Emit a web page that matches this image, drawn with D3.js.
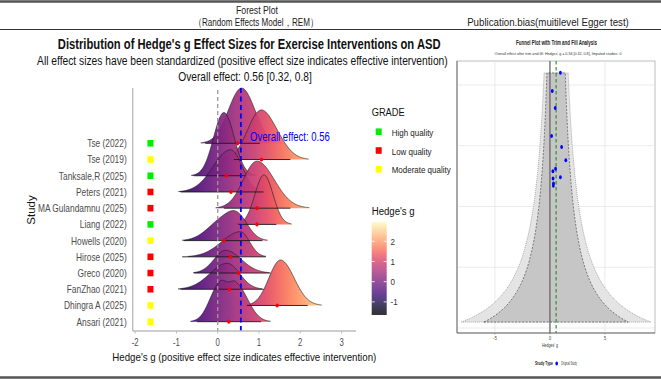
<!DOCTYPE html>
<html>
<head>
<meta charset="utf-8">
<script src="https://cdn.jsdelivr.net/npm/d3@7"></script>
<style>
  body { margin: 0; background: #fff; }
  svg { display: block; }
  text { font-family: "Liberation Sans", Arial, sans-serif; }
</style>
</head>
<body>
<div id="chart"></div>
<script>
// ---- data ----
var studies = ["Ansari (2021)", "Dhingra A (2025)", "FanZhao (2021)", "Greco (2020)", "Hirose (2025)",
               "Howells (2020)", "Liang (2022)", "MA Gulandamnu (2025)", "Peters (2021)",
               "Tanksale,R (2025)", "Tse (2019)", "Tse (2022)"];
var grade = ["Moderate quality", "Moderate quality", "Low quality", "Low quality", "Low quality",
             "Moderate quality", "High quality", "Low quality", "Low quality",
             "High quality", "Moderate quality", "High quality"];
var hedgesG = [0.27, 1.44, 0.28, 0.51, 0.31, 0.15, 0.95, 0.95, 0.32, 0.21, 1.06, 0.48];
var ciLow   = [-0.50, 0.71, -0.90, -0.58, -0.86, -0.82, 0.50, 0.15, -0.90, -0.58, 0.39, -0.30];
var ciHigh  = [1.05, 2.18, 1.11, 1.28, 1.16, 1.08, 1.42, 1.76, 1.11, 0.67, 1.76, 1.02];
// ridge shape: bumps [mode, sd left, sd right, height in rows]
var ridgeShape = [
  [[0.05, 0.24, 0.18, 2.3], [0.45, 0.18, 0.28, 2.25]],
  [[1.52, 0.28, 0.33, 2.8]],
  [[0.23, 0.42, 0.30, 1.6]],
  [[0.19, 0.28, 0.38, 1.4]],
  [[0.55, 0.45, 0.22, 1.55]],
  [[0.10, 0.35, 0.35, 1.2], [0.50, 0.25, 0.25, 1.1]],
  [[1.12, 0.22, 0.22, 3.05]],
  [[0.95, 0.33, 0.42, 2.9]],
  [[0.31, 0.42, 0.28, 2.6]],
  [[0.15, 0.25, 0.25, 3.9]],
  [[0.99, 0.30, 0.30, 2.6], [1.40, 0.30, 0.30, 1.0]],
  [[0.58, 0.32, 0.32, 3.4]]
];
var precision = [1.54, 1.63, 1.48, 1.56, 1.42, 1.83, 2.35, 1.49, 1.44, 2.20, 1.74, 2.06];
var gradeLevels = ["High quality", "Low quality", "Moderate quality"];
var gradeColors = ["#00ee00", "#ff0000", "#ffff00"];
var pooled = 0.56, pooledLow = 0.32, pooledHigh = 0.8;
var fillRange = [-1.65, 2.97];
var xTicks = [-2, -1, 0, 1, 2, 3];
var cbTicks = [-1, 0, 1, 2];
var funnelTicks = [-5, 0, 5];
var funnelGrid = [0.25, 0.75, 1.25, 1.75, 2.25];

var W = 661, H = 379;
var svg = d3.select("#chart").append("svg").attr("width", W).attr("height", H);

// text squeezed horizontally (the original image is narrowed)
function label(g, x, y, s, size, opt) {
  opt = opt || {};
  var t = g.append("text").attr("x", 0).attr("y", 0).attr("dy", "0.35em")
    .attr("font-size", size).attr("text-anchor", opt.anchor || "start")
    .attr("fill", opt.fill || "#000")
    .attr("font-weight", opt.bold ? "bold" : null)
    .text(s);
  var n = t.node().getComputedTextLength();
  var k = opt.w ? opt.w / n : (opt.k || 1);
  t.attr("transform", "translate(" + x + "," + y + ") scale(" + k + ",1)");
  return t;
}

// ---- frame & headers ----
svg.append("line").attr("x1", 0).attr("x2", W).attr("y1", 1.5).attr("y2", 1.5)
  .attr("stroke", "#555").attr("stroke-width", 2.5);
svg.append("line").attr("x1", 0).attr("x2", W).attr("y1", 29.5).attr("y2", 29.5)
  .attr("stroke", "#333").attr("stroke-width", 1);
svg.append("line").attr("x1", 0).attr("x2", W).attr("y1", 377.5).attr("y2", 377.5)
  .attr("stroke", "#555").attr("stroke-width", 2.5);
label(svg, 257, 10, "Forest Plot", 11, {anchor: "middle", fill: "#222", w: 42});
label(svg, 256, 22, "（Random Effects Model，REM）", 11, {anchor: "middle", fill: "#222", w: 124});
label(svg, 548, 22.5, "Publication.bias(muitilevel Egger test)", 11, {anchor: "middle", fill: "#222", w: 162});

// ---- forest / ridgeline panel ----
var x = d3.scaleLinear().domain([-2.06, 3.35]).range([132.7, 356]);
var y = d3.scalePoint().domain(studies).range([321.7, 143.3]);
var rowH = y.step();
var panelTop = 88, panelBottom = 331;

var defs = svg.append("defs");
var grad = defs.append("linearGradient").attr("id", "mag")
  .attr("gradientUnits", "userSpaceOnUse")
  .attr("x1", x(fillRange[0])).attr("x2", x(fillRange[1])).attr("y1", 0).attr("y2", 0);
var cbGrad = defs.append("linearGradient").attr("id", "magv")
  .attr("x1", 0).attr("x2", 0).attr("y1", 1).attr("y2", 0);
d3.range(0, 1.0001, 0.05).forEach(function (t) {
  grad.append("stop").attr("offset", t).attr("stop-color", d3.interpolateMagma(t));
  cbGrad.append("stop").attr("offset", t).attr("stop-color", d3.interpolateMagma(t));
});

label(svg, 249.2, 44, "Distribution of Hedge's g Effect Sizes for Exercise Interventions on ASD", 14.5, {anchor: "middle", bold: true, fill: "#111", w: 383});
label(svg, 242.4, 61, "All effect sizes have been standardized (positive effect size indicates effective intervention)", 12.5, {anchor: "middle", fill: "#111", w: 411});
label(svg, 245, 76.5, "Overall effect: " + pooled + " [" + pooledLow + ", " + pooledHigh + "]", 12, {anchor: "middle", fill: "#111", w: 133.7});

var gridG = d3.range(fillRange[0], fillRange[1] + 1e-9, 0.01);
function dens(comps, v) {
  return d3.sum(comps, function (c) {
    var s = v < c[0] ? c[1] : c[2];
    return c[3] * Math.exp(-0.5 * Math.pow((v - c[0]) / s, 2));
  });
}
var ridges = svg.append("g");
var area = d3.area().x(function (d) { return x(d[0]); });
var line = d3.line().x(function (d) { return x(d[0]); });
d3.range(studies.length - 1, -1, -1).forEach(function (i) {
  var base = y(studies[i]);
  var pts = gridG.map(function (v) { return [v, dens(ridgeShape[i], v)]; });
  var on = pts.map(function (p) { return p[1] > 0.03; });
  var a = on.indexOf(true), b = on.lastIndexOf(true);
  pts = pts.slice(Math.max(0, a - 1), b + 2);
  area.y0(base).y1(function (d) { return base - d[1] * rowH; });
  line.y(function (d) { return base - d[1] * rowH; });
  ridges.append("path").attr("d", area(pts)).attr("fill", "url(#mag)").attr("fill-opacity", 0.93);
  ridges.append("path").attr("d", line(pts)).attr("fill", "none")
    .attr("stroke", "#1a1a1a").attr("stroke-width", 0.6);
});

// CI lines and points
svg.append("g").selectAll("line").data(studies).join("line")
  .attr("x1", function (d, i) { return x(ciLow[i]); })
  .attr("x2", function (d, i) { return x(ciHigh[i]); })
  .attr("y1", function (d) { return y(d); }).attr("y2", function (d) { return y(d); })
  .attr("stroke", "#1a1a1a").attr("stroke-width", 0.9);

// reference lines
svg.append("line").attr("x1", x(0)).attr("x2", x(0)).attr("y1", panelTop + 2).attr("y2", panelBottom)
  .attr("stroke", "#999").attr("stroke-width", 1.3).attr("stroke-dasharray", "4,3");
svg.append("line").attr("x1", x(pooled)).attr("x2", x(pooled)).attr("y1", panelTop).attr("y2", panelBottom)
  .attr("stroke", "#0000ff").attr("stroke-width", 1.8).attr("stroke-dasharray", "5,3.5");

svg.append("g").selectAll("ellipse").data(studies).join("ellipse")
  .attr("cx", function (d, i) { return x(hedgesG[i]); })
  .attr("cy", function (d) { return y(d); })
  .attr("rx", 1.7).attr("ry", 2.1).attr("fill", "#ff0000");

label(svg, 250, 136.5, "Overall effect: " + pooled, 12, {fill: "#0000ff", w: 80});

// grade squares
svg.append("g").selectAll("rect").data(studies).join("rect")
  .attr("x", x(-1.63) - 3).attr("y", function (d) { return y(d) - 3.3; })
  .attr("width", 6).attr("height", 6.6)
  .attr("fill", function (d, i) { return gradeColors[gradeLevels.indexOf(grade[i])]; });

// axes
svg.append("line").attr("x1", x.range()[0]).attr("x2", x.range()[0]).attr("y1", panelTop).attr("y2", panelBottom)
  .attr("stroke", "#bdbdbd").attr("stroke-width", 1.4);
svg.append("line").attr("x1", x.range()[0]).attr("x2", x.range()[1]).attr("y1", panelBottom).attr("y2", panelBottom)
  .attr("stroke", "#bdbdbd").attr("stroke-width", 1.4);
var yl = svg.append("g");
studies.forEach(function (s) {
  label(yl, 126.7, y(s), s, 11.3, {anchor: "end", fill: "#4d4d4d", k: 0.74});
});
var xl = svg.append("g");
xTicks.forEach(function (t) {
  xl.append("line").attr("x1", x(t)).attr("x2", x(t)).attr("y1", panelBottom).attr("y2", panelBottom + 2.5)
    .attr("stroke", "#bdbdbd");
  label(xl, x(t), 342, t, 10.5, {anchor: "middle", fill: "#4d4d4d", k: 0.74});
});
label(svg, 244.3, 356.7, "Hedge's g (positive effect size indicates effective intervention)", 11.8, {anchor: "middle", fill: "#111", w: 264});
svg.append("text").attr("transform", "translate(31,210) rotate(-90)")
  .attr("text-anchor", "middle").attr("dy", "0.35em").attr("font-size", 11.5).attr("fill", "#111")
  .text("Study");

// legends
label(svg, 371.7, 112.3, "GRADE", 11.5, {fill: "#111", w: 33});
gradeLevels.forEach(function (g, i) {
  var cy = 131.7 + i * 18.8;
  svg.append("rect").attr("x", 375.7).attr("y", cy - 3.3).attr("width", 6).attr("height", 6.6).attr("fill", gradeColors[i]);
  label(svg, 391.7, cy + 0.8, g, 9.5, {fill: "#222", k: 0.84});
});
label(svg, 371.7, 210.7, "Hedge's g", 11.5, {fill: "#111", w: 43});
var cb = d3.scaleLinear().domain(fillRange).range([315, 221.7]);
svg.append("rect").attr("x", 371.7).attr("y", cb.range()[1]).attr("width", 15)
  .attr("height", cb.range()[0] - cb.range()[1]).attr("fill", "url(#magv)").attr("fill-opacity", 0.8);
cbTicks.forEach(function (t) {
  svg.append("line").attr("x1", 371.7).attr("x2", 374.7).attr("y1", cb(t)).attr("y2", cb(t)).attr("stroke", "#fff").attr("stroke-width", 0.8);
  svg.append("line").attr("x1", 383.7).attr("x2", 386.7).attr("y1", cb(t)).attr("y2", cb(t)).attr("stroke", "#fff").attr("stroke-width", 0.8);
  label(svg, 390.5, cb(t), t, 9.5, {fill: "#333", k: 0.84});
});

// ---- funnel panel ----
var fx = d3.scaleLinear().domain([-8.45, 9.55]).range([457, 655]);
var fy = d3.scaleLinear().domain([0.25, 2.25]).range([328, 85]);
var fTop = 61, fBottom = 333;
var fun = svg.append("g");
fun.append("rect").attr("x", 457).attr("y", fTop).attr("width", 198).attr("height", fBottom - fTop)
  .attr("fill", "#fff").attr("stroke", "#a0a0a0").attr("stroke-width", 0.7);
funnelGrid.forEach(function (p) {
  fun.append("line").attr("x1", 457).attr("x2", 655).attr("y1", fy(p)).attr("y2", fy(p))
    .attr("stroke", "#e3e3e3").attr("stroke-width", 0.7);
});
funnelTicks.forEach(function (t) {
  fun.append("line").attr("x1", fx(t)).attr("x2", fx(t)).attr("y1", fTop).attr("y2", fBottom)
    .attr("stroke", "#e3e3e3").attr("stroke-width", 0.7);
});
var pRange = d3.range(0.299, 2.351, 0.01);
function funnelPoly(z) {
  var left = pRange.map(function (p) { return [fx(pooled - z / p), fy(p)]; });
  var right = pRange.slice().reverse().map(function (p) { return [fx(pooled + z / p), fy(p)]; });
  return left.concat(right);
}
var poly = d3.line().curve(d3.curveLinearClosed);
fun.append("path").attr("d", poly(funnelPoly(2.576))).attr("fill", "#e4e4e4")
  .attr("stroke", "#777").attr("stroke-width", 0.6).attr("stroke-dasharray", "1,1");
fun.append("path").attr("d", poly(funnelPoly(1.96))).attr("fill", "#c6c6c6")
  .attr("stroke", "#333").attr("stroke-width", 0.6).attr("stroke-dasharray", "2,1.5");
fun.append("line").attr("x1", fx(0)).attr("x2", fx(0)).attr("y1", fTop).attr("y2", fBottom)
  .attr("stroke", "#555").attr("stroke-width", 1.1);
fun.append("line").attr("x1", fx(pooled)).attr("x2", fx(pooled)).attr("y1", fTop).attr("y2", fBottom)
  .attr("stroke", "#228b22").attr("stroke-width", 1.1).attr("stroke-dasharray", "3.5,2.5");
fun.selectAll("ellipse").data(studies).join("ellipse")
  .attr("cx", function (d, i) { return fx(hedgesG[i]); })
  .attr("cy", function (d, i) { return fy(precision[i]); })
  .attr("rx", 1.4).attr("ry", 2).attr("fill", "#0000ff");
fun.append("line").attr("x1", 457).attr("x2", 457).attr("y1", fTop).attr("y2", fBottom).attr("stroke", "#666").attr("stroke-width", 0.9);
fun.append("line").attr("x1", 457).attr("x2", 655).attr("y1", fBottom).attr("y2", fBottom).attr("stroke", "#666").attr("stroke-width", 0.9);
funnelTicks.forEach(function (t) {
  fun.append("line").attr("x1", fx(t)).attr("x2", fx(t)).attr("y1", fBottom).attr("y2", fBottom + 1.5).attr("stroke", "#666").attr("stroke-width", 0.5);
  label(fun, fx(t), 338.5, t, 4.5, {anchor: "middle", fill: "#555"});
});
label(fun, 550, 345.5, "Hedges' g", 4.8, {anchor: "middle", fill: "#333", w: 16});
label(fun, 556.5, 42.5, "Funnel Plot with Trim and Fill Analysis", 6.3, {anchor: "middle", bold: true, fill: "#222", w: 81});
label(fun, 558, 53.5, "Overall effect after trim and fill: Hedges' g = " + pooled + " [" + pooledLow + ", " + pooledHigh + "], Imputed studies: 0", 4.2, {anchor: "middle", fill: "#333", w: 127});
label(fun, 535, 363.5, "Study Type", 5, {bold: true, fill: "#222", w: 18});
fun.append("ellipse").attr("cx", 556.7).attr("cy", 363.5).attr("rx", 1.3).attr("ry", 2).attr("fill", "#0000ff");
label(fun, 561, 363.5, "Original Study", 4.5, {fill: "#333", w: 16});
</script>
</body>
</html>
